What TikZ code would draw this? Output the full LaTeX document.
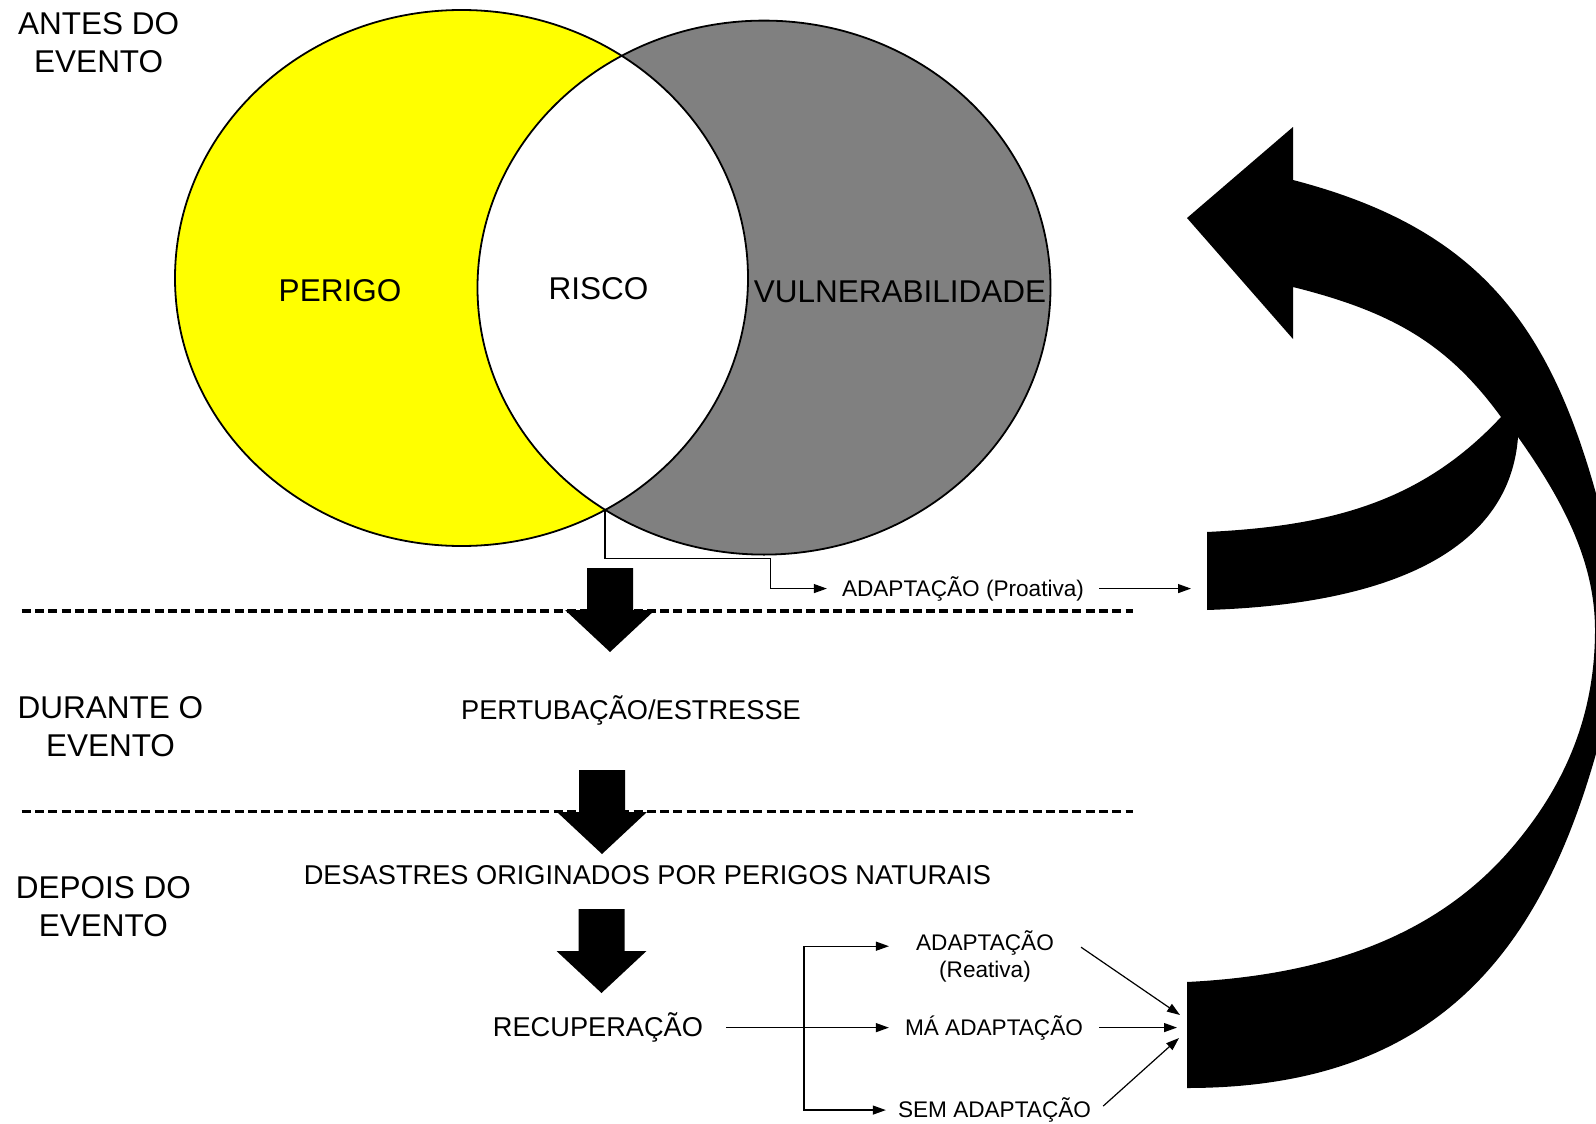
\documentclass[tikz,border=0pt]{standalone}
\usepackage{fontspec}
\setmainfont{Liberation Sans}
\usetikzlibrary{arrows.meta}
\definecolor{perigo}{RGB}{255,255,0}
\definecolor{vulner}{RGB}{128,128,128}
\begin{document}
\begin{tikzpicture}[x=1pt,y=-1pt,
  big/.style={font=\fontsize{31.5}{38.2}\selectfont, inner sep=0pt},
  mid/.style={font=\fontsize{27.2}{32}\selectfont, inner sep=0pt},
  small/.style={font=\fontsize{22.6}{27.5}\selectfont, inner sep=0pt},
  ring/.style={draw=black, line width=1.8pt},
  link/.style={draw=black, line width=1.2pt},
  tip/.style={-{Triangle[length=13pt,width=9pt]}},
  divider/.style={draw=black, line width=3.2pt, dash pattern=on 9pt off 4.3pt},
  blockdown/.pic={\fill[black] (-23,0) -- (23,0) -- (23,42) -- (45,42) -- (0,84) -- (-45,42) -- (-23,42) -- cycle;}
]
\useasboundingbox (0,0) rectangle (1596,1124);
\clip (0,0) rectangle (1596,1124);
\fill[white] (0,0) rectangle (1596,1124);

% Venn diagram: hazard, vulnerability and their overlap (risk)
\fill[perigo] (461.5,278) ellipse [x radius=286.5, y radius=268];
\fill[vulner] (764,287.6) ellipse [x radius=286.5, y radius=267];
\begin{scope}
  \clip (461.5,278) ellipse [x radius=286.5, y radius=268];
  \fill[white] (764,287.6) ellipse [x radius=286.5, y radius=267];
\end{scope}
\draw[ring] (461.5,278) ellipse [x radius=286.5, y radius=268];
\draw[ring] (764,287.6) ellipse [x radius=286.5, y radius=267];

% phase separators
\draw[divider] (21.7,611) -- (1133,611);
\draw[divider] (21.7,811.7) -- (1133,811.7);

% block arrows between the phases
\pic at (610,568) {blockdown};
\pic at (602,770) {blockdown};
\pic at (601.5,909) {blockdown};

% texts
\node[big, align=center] (antes) at (98.7,42.5) {ANTES DO\\EVENTO};
\node[big, align=center] (durante) at (110.5,726.5) {DURANTE O\\EVENTO};
\node[big, align=center] (depois) at (103.3,907) {DEPOIS DO\\EVENTO};
\node[big, anchor=base] (perigo) at (340,301.3) {PERIGO};
\node[big, anchor=base] (risco) at (598.5,299.9) {RISCO};
\node[big, anchor=base] (vuln) at (900,302.3) {VULNERABILIDADE};
\node[mid, anchor=base] (estresse) at (631,719.7) {PERTUBAÇÃO/ESTRESSE};
\node[mid, anchor=base] (desastres) at (647.4,884.1) {DESASTRES ORIGINADOS POR PERIGOS NATURAIS};
\node[mid, anchor=base, inner xsep=23pt] (recup) at (598,1036.7) {RECUPERAÇÃO};
\node[small, anchor=base, inner xsep=15pt] (proativa) at (963,596.1) {ADAPTAÇÃO (Proativa)};
\node[small, align=center, inner xsep=27pt] (reativa) at (985,956.2) {ADAPTAÇÃO\\(Reativa)};
\node[small, anchor=base, inner xsep=16pt] (ma) at (994,1035.1) {MÁ ADAPTAÇÃO};
\node[small, anchor=base, inner xsep=12pt] (sem) at (994.5,1117.6) {SEM ADAPTAÇÃO};

% proactive adaptation connector
\coordinate (lensbottom) at (605,509.8);
\coordinate (elbow) at (770.5,558.5);
\coordinate (bandin) at (1191,588);
\draw[link] (lensbottom) |- (elbow);
\draw[link,tip] (elbow) |- (proativa.west);
\draw[link,tip] (proativa.east) -- (proativa.east -| bandin);

% recovery outcomes
\coordinate (forkx) at (804,0);
\coordinate (fork) at (forkx |- recup.east);
\draw[link,tip] (recup.east) -- (recup.east -| ma.west);
\draw[link,tip] (fork) |- ([yshift=10pt]reativa.west);
\draw[link,tip] (fork) |- (sem.west);

\coordinate (tailA) at (1180,1015);
\coordinate (tailB) at (1177,1027);
\coordinate (tailC) at (1179,1038);
\draw[link,tip] ([yshift=9pt]reativa.east) -- (tailA);
\draw[link,tip] (ma.east) -- (ma.east -| tailB);
\draw[link,tip] ([yshift=4pt]sem.east) -- (tailC);

% feedback arrow back to the start (runs past the right edge and is clipped there)
\fill[black] (1187,218) -- (1293,127) -- (1293,180)
  .. controls (1493,232) and (1560,340) .. (1608,540)
  -- (1650,540) -- (1650,720) -- (1605,720)
  .. controls (1550,940) and (1447,1088) .. (1187,1088)
  -- (1187,982)
  .. controls (1317,975.5) and (1431.3,940.6) .. (1510,850)
  .. controls (1569,782) and (1595,710) .. (1595,630)
  .. controls (1595,560) and (1561.5,498.5) .. (1518,437)
  .. controls (1510,547) and (1397,604) .. (1207,610)
  -- (1207,532)
  .. controls (1330,526) and (1421.4,502.4) .. (1501,417)
  .. controls (1447.9,344.1) and (1393,312) .. (1293,287)
  -- (1293,339) -- cycle;
\end{tikzpicture}
\end{document}
